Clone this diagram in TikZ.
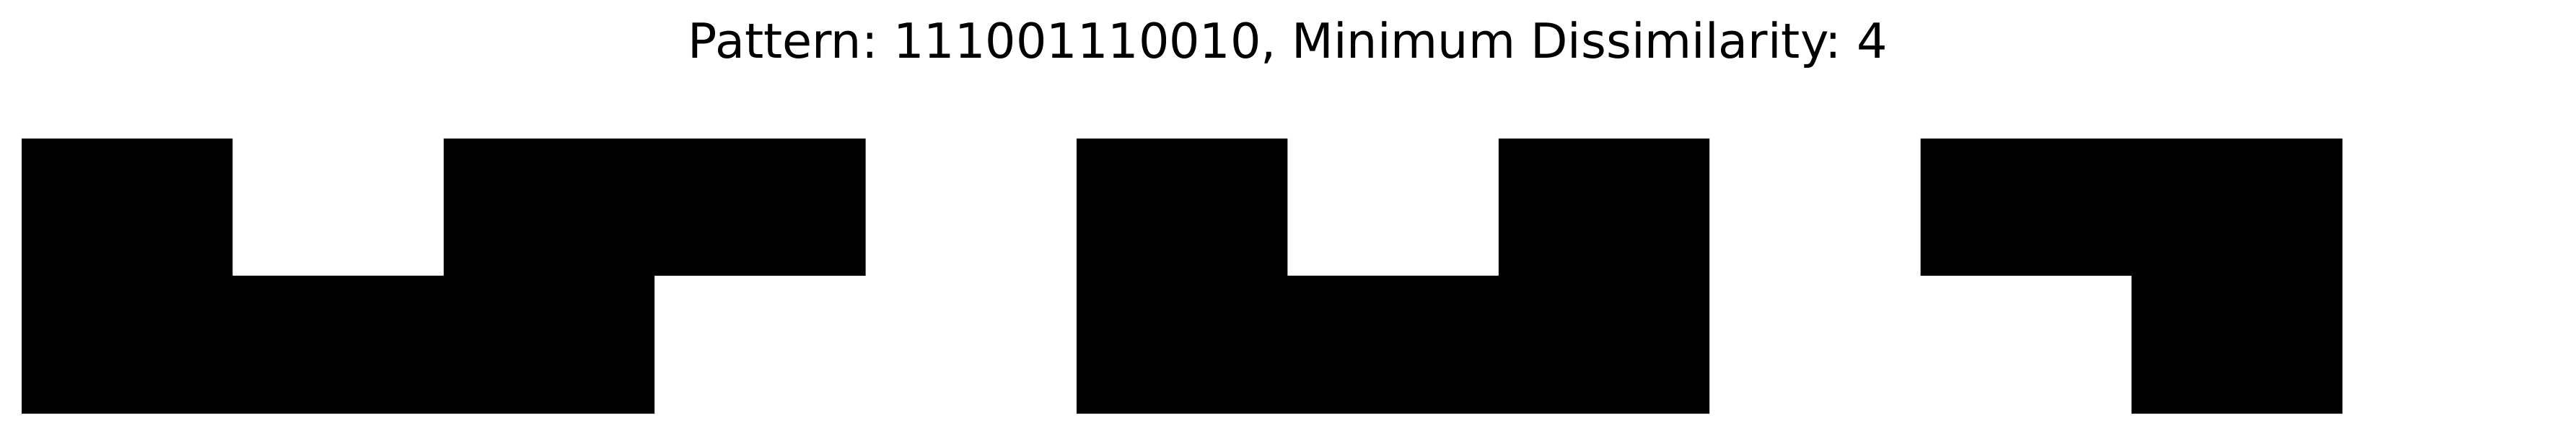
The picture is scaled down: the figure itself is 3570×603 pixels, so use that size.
\documentclass[tikz,border=0pt]{standalone}
\usepackage{fontspec}
\setmainfont{DejaVu Sans}
\frenchspacing
\begin{document}
\begin{tikzpicture}[x=0.01cm,y=0.01cm,
  blk/.style={fill=black,draw=none},
  titletext/.style={font=\fontsize{19}{22}\selectfont,inner sep=0pt,anchor=base}]
\fill[white] (0,0) rectangle (3570,603);
\useasboundingbox (0,0) rectangle (3570,603);
\def\cw{292.4}
\def\xa{30}
\pgfmathsetmacro{\xb}{\xa+\cw}
\pgfmathsetmacro{\xc}{\xa+2*\cw}
\pgfmathsetmacro{\xd}{\xa+3*\cw}
\pgfmathsetmacro{\xe}{\xa+4*\cw}
\pgfmathsetmacro{\xf}{\xa+5*\cw}
\pgfmathsetmacro{\xg}{\xa+6*\cw}
\pgfmathsetmacro{\xh}{\xa+7*\cw}
\pgfmathsetmacro{\xi}{\xa+8*\cw}
\pgfmathsetmacro{\xj}{\xa+9*\cw}
\pgfmathsetmacro{\xk}{\xa+10*\cw}
\pgfmathsetmacro{\xl}{\xa+11*\cw}
% shape 1
\fill[blk] (\xa,411) -- (\xb,411) -- (\xb,221) -- (\xc,221) -- (\xc,411) -- (\xe,411)
  -- (\xe,221) -- (\xd,221) -- (\xd,30) -- (\xa,30) -- cycle;
% shape 2
\fill[blk] (\xf,411) -- (\xg,411) -- (\xg,221) -- (\xh,221) -- (\xh,411) -- (\xi,411)
  -- (\xi,30) -- (\xf,30) -- cycle;
% shape 3
\fill[blk] (\xj,411) -- (\xl,411) -- (\xl,30) -- (\xk,30) -- (\xk,221) -- (\xj,221) -- cycle;
\node[titletext] (title) at (1785,522) {Pattern: 111001110010, Minimum Dissimilarity: 4};
\end{tikzpicture}
\end{document}
